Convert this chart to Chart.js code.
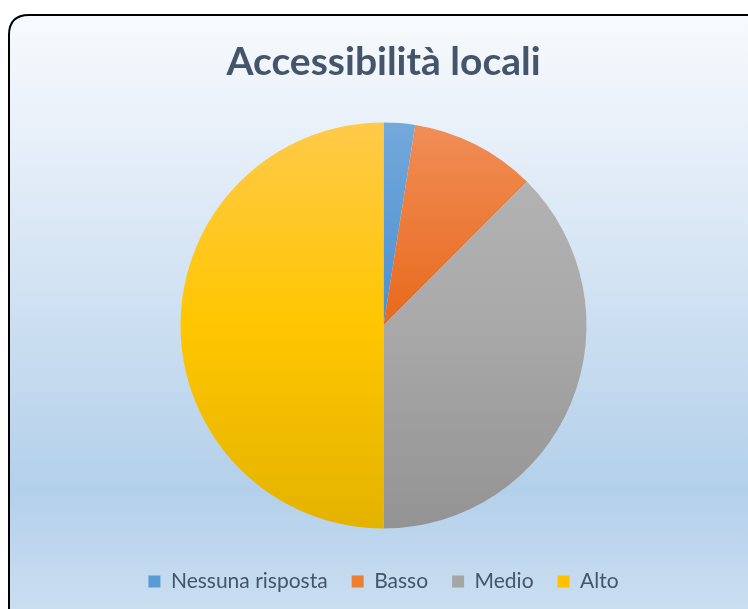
<!DOCTYPE html>
<html>
<head>
<meta charset="utf-8">
<script src="https://cdn.jsdelivr.net/npm/chart.js@4"></script>
<style>
  html, body { margin: 0; padding: 0; background: #ffffff; }
  #wrap { width: 748px; height: 609px; }
</style>
</head>
<body>
<div id="wrap"><canvas id="pieChart" width="748" height="609"></canvas></div>
<script>
const categories = ['Nessuna risposta', 'Basso', 'Medio', 'Alto'];
const answers = [1, 4, 15, 20];

// light (top) / dark (bottom) shades for each slice
const topColors = ['#74a9db', '#f18e58', '#b6b6b6', '#ffca4a'];
const midColors = ['#4a8fd2', '#e8691b', '#a9a9a9', '#ffc600'];
const bottomColors = ['#4a8fd2', '#e8691b', '#939393', '#e4b300'];
const legendColors = ['#5b9bd5', '#ed7d31', '#a5a5a5', '#ffc000'];

const PIE_RADIUS = 203;

function sliceFill(ctx) {
    const chart = ctx.chart;
    const area = chart.chartArea;
    const i = ctx.dataIndex;
    if (!area) return legendColors[i];
    const cy = (area.top + area.bottom) / 2;
    const g = chart.ctx.createLinearGradient(0, cy - PIE_RADIUS, 0, cy + PIE_RADIUS);
    g.addColorStop(0, topColors[i]);
    g.addColorStop(0.5, midColors[i]);
    g.addColorStop(1, bottomColors[i]);
    return g;
}

// rounded frame with the blue background gradient
const framePlugin = {
    id: 'frame',
    beforeDraw(chart) {
        const c = chart.ctx;
        const x = 9, y = 15, w = 760, h = 620, r = 20;
        c.save();
        const g = c.createLinearGradient(0, y, 0, 609);
        g.addColorStop(0, '#f7fafd');
        g.addColorStop(0.2, '#e8f0f9');
        g.addColorStop(0.8, '#b3d0ea');
        g.addColorStop(1, '#cadef1');
        c.beginPath();
        c.moveTo(x + r, y);
        c.lineTo(x + w - r, y);
        c.quadraticCurveTo(x + w, y, x + w, y + r);
        c.lineTo(x + w, y + h - r);
        c.quadraticCurveTo(x + w, y + h, x + w - r, y + h);
        c.lineTo(x + r, y + h);
        c.quadraticCurveTo(x, y + h, x, y + h - r);
        c.lineTo(x, y + r);
        c.quadraticCurveTo(x, y, x + r, y);
        c.closePath();
        c.fillStyle = g;
        c.fill();
        c.lineWidth = 2;
        c.strokeStyle = '#000000';
        c.stroke();
        c.restore();
    }
};

new Chart(document.getElementById('pieChart'), {
    type: 'pie',
    data: {
        labels: categories,
        datasets: [{
            data: answers,
            backgroundColor: sliceFill,
            borderWidth: 0,
            radius: PIE_RADIUS
        }]
    },
    options: {
        responsive: false,
        animation: false,
        layout: { padding: { left: 19, right: 0, top: 0, bottom: 7 } },
        plugins: {
            title: {
                display: true,
                text: 'Accessibilità locali',
                color: '#44546a',
                font: { family: 'Lato', size: 39, weight: 'bold', lineHeight: 1.2 },
                padding: { top: 39, bottom: 18 }
            },
            legend: {
                position: 'bottom',
                labels: {
                    color: '#44546a',
                    font: { family: 'Lato', size: 21 },
                    boxWidth: 12,
                    boxHeight: 12,
                    padding: 24,
                    generateLabels(chart) {
                        return categories.map((name, i) => ({
                            text: name,
                            fillStyle: legendColors[i],
                            strokeStyle: legendColors[i],
                            lineWidth: 0,
                            fontColor: '#44546a',
                            index: i
                        }));
                    }
                }
            },
            tooltip: { enabled: false }
        }
    },
    plugins: [framePlugin]
});
</script>
</body>
</html>
